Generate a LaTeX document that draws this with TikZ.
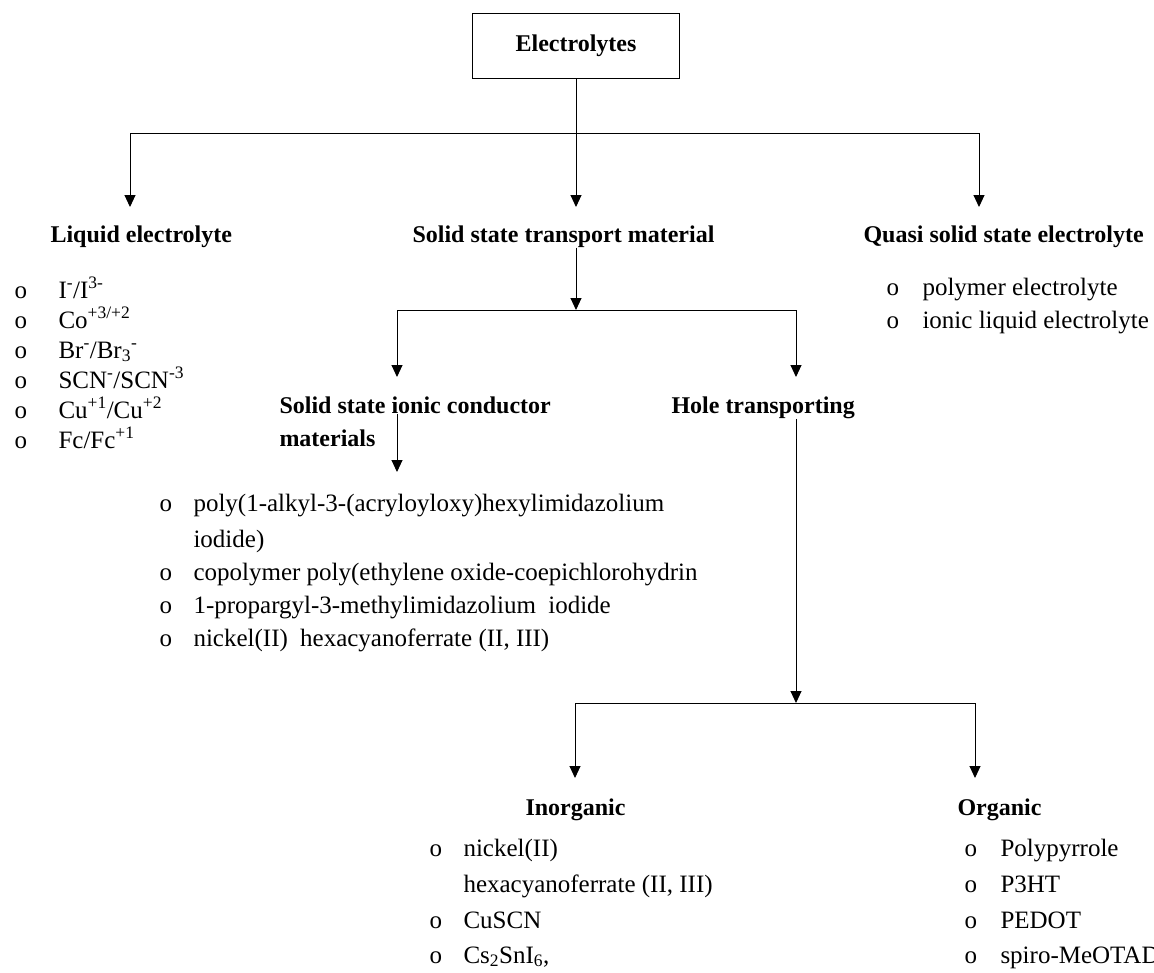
\documentclass[tikz,border=0pt]{standalone}
\usepackage{fontspec}
\setmainfont{Liberation Serif}
\usetikzlibrary{arrows.meta}

\begin{document}
\begin{tikzpicture}[x=1pt, y=-1pt, line width=1pt,
        every node/.style={inner sep=0pt, font=\fontsize{25}{30}\selectfont},
        head/.style={anchor=base west, font=\fontsize{24}{30}\selectfont\bfseries},
        item/.style={anchor=base west},
        arr/.style={-{Triangle[width=11pt,length=12pt]}}]
    \useasboundingbox (0,0) rectangle (1154,972);
    % top box
    \node[draw, line width=1.4pt, minimum width=207pt, minimum height=65pt,
        font=\fontsize{24}{30}\selectfont\bfseries] (elec) at (576,46) {Electrolytes};
    % first level
    \node[head] (liq) at (50,242) {Liquid electrolyte};
    \node[head] (sol) at (412,242) {Solid state transport material};
    \node[head] (qua) at (863,242) {Quasi solid state electrolyte};
    \coordinate (top) at (576,133);
    \coordinate (liqtip) at (130,207);
    \coordinate (soltip) at (576,207);
    \coordinate (quatip) at (979,207);
    \draw (elec.south) -- (top);
    \draw[arr] (top) -| (liqtip);
    \draw[arr] (top) -- (soltip);
    \draw[arr] (top) -| (quatip);
    % liquid list
    \node[item] (lb1) at (14,298) {o};  \node[item] (l1) at (58,298) {I\textsuperscript{-}/I\textsuperscript{3-}};
    \node[item] (lb2) at (14,328) {o};  \node[item] (l2) at (58,328) {Co\textsuperscript{+3/+2}};
    \node[item] (lb3) at (14,358) {o};  \node[item] (l3) at (58,358) {Br\textsuperscript{-}/Br\textsubscript{3}\textsuperscript{-}};
    \node[item] (lb4) at (14,388) {o};  \node[item] (l4) at (58,388) {SCN\textsuperscript{-}/SCN\textsuperscript{-3}};
    \node[item] (lb5) at (14,418) {o};  \node[item] (l5) at (58,418) {Cu\textsuperscript{+1}/Cu\textsuperscript{+2}};
    \node[item] (lb6) at (14,448) {o};  \node[item] (l6) at (58,448) {Fc/Fc\textsuperscript{+1}};
    % quasi list
    \node[item] (qb1) at (886,295) {o};  \node[item] (q1) at (922,295) {polymer electrolyte};
    \node[item] (qb2) at (886,328) {o};  \node[item] (q2) at (922,328) {ionic liquid electrolyte};
    % second level
    \node[head] (ssic) at (279,413) {Solid state ionic conductor};
    \node[head] (ssicb) at (279,446) {materials};
    \node[head] (hole) at (671,413) {Hole transporting};
    \coordinate (soljoint) at (576,310);
    \coordinate (ssictip) at (397,377);
    \coordinate (holetip) at (796,377);
    \draw[arr] (soljoint |- sol.south) -- (soljoint);
    \draw[arr] (soljoint) -| (ssictip);
    \draw[arr] (soljoint) -| (holetip);
    % ionic conductor list
    \coordinate (ssicend) at (397,472);
    \draw[arr] (ssicend |- ssic.south) -- (ssicend);
    \node[item] (mb1) at (159,511) {o};  \node[item] (m1) at (193,511) {poly(1-alkyl-3-(acryloyloxy)hexylimidazolium};
    \node[item] (m1b) at (193,547) {iodide)};
    \node[item] (mb2) at (159,580) {o};  \node[item] (m2) at (193,580) {copolymer poly(ethylene oxide-coepichlorohydrin};
    \node[item] (mb3) at (159,613) {o};  \node[item] (m3) at (193,613) {1-propargyl-3-methylimidazolium\hspace{6pt} iodide};
    \node[item] (mb4) at (159,646) {o};  \node[item] (m4) at (193,646) {nickel(II)\hspace{6pt} hexacyanoferrate (II, III)};
    % hole transporting branch
    \coordinate (holejoint) at (796,703);
    \coordinate (inotip) at (575,778);
    \coordinate (orgtip) at (975,778);
    \draw[arr] (holejoint |- hole.south) -- (holejoint);
    \draw[arr] (holejoint) -| (inotip);
    \draw[arr] (holejoint) -| (orgtip);
    \node[head] (ino) at (525,815) {Inorganic};
    \node[head] (org) at (957,815) {Organic};
    % inorganic list
    \node[item] (ib1) at (429,856) {o};  \node[item] (i1) at (463,856) {nickel(II)};
    \node[item] (i1b) at (463,892) {hexacyanoferrate (II, III)};
    \node[item] (ib2) at (429,928) {o};  \node[item] (i2) at (463,928) {CuSCN};
    \node[item] (ib3) at (429,963) {o};  \node[item] (i3) at (463,963) {Cs\textsubscript{2}SnI\textsubscript{6},};
    % organic list
    \node[item] (ob1) at (964,856) {o};  \node[item] (o1) at (1000,856) {Polypyrrole};
    \node[item] (ob2) at (964,892) {o};  \node[item] (o2) at (1000,892) {P3HT};
    \node[item] (ob3) at (964,928) {o};  \node[item] (o3) at (1000,928) {PEDOT};
    \node[item] (ob4) at (964,963) {o};  \node[item] (o4) at (1000,963) {spiro-MeOTAD};
\end{tikzpicture}
\end{document}
